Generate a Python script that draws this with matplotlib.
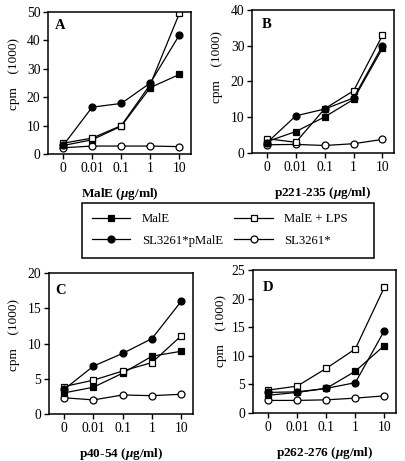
import matplotlib
matplotlib.use('Agg')
import matplotlib.pyplot as plt
from matplotlib.lines import Line2D
from matplotlib.patches import Rectangle

plt.rcParams['font.family'] = ['Liberation Serif', 'DejaVu Serif']
plt.rcParams['mathtext.fontset'] = 'custom'
plt.rcParams['mathtext.it'] = 'Liberation Serif:italic:bold'
plt.rcParams['mathtext.rm'] = 'Liberation Serif:bold'

# concentration categories (ug/ml)
doses = ['0', '0.01', '0.1', '1', '10']

# panel A - MalE
a_male = [3.0, 5.0, 9.8, 23.4, 28.0]
a_male_lps = [3.8, 5.6, 10.0, 24.5, 49.5]
a_pmale = [3.0, 16.5, 17.8, 25.0, 41.9]
a_sl = [2.2, 2.8, 2.8, 2.8, 2.6]

# panel B - p221-235
b_male = [3.2, 6.0, 10.1, 15.0, 29.3]
b_male_lps = [4.0, 3.0, 12.4, 17.4, 32.9]
b_pmale = [2.9, 10.4, 12.3, 15.4, 30.0]
b_sl = [2.3, 2.4, 2.1, 2.6, 3.8]

# panel C - p40-54
c_male = [3.0, 3.8, 5.8, 8.2, 8.9]
c_male_lps = [3.9, 4.8, 6.1, 7.3, 11.1]
c_pmale = [3.5, 6.8, 8.6, 10.7, 16.0]
c_sl = [2.3, 2.0, 2.7, 2.6, 2.8]

# panel D - p262-276
d_male = [3.1, 3.6, 4.3, 7.3, 11.8]
d_male_lps = [4.0, 4.7, 7.8, 11.2, 22.0]
d_pmale = [3.6, 3.7, 4.3, 5.3, 14.4]
d_sl = [2.2, 2.2, 2.3, 2.6, 3.0]

series_names = ['MalE', 'MalE + LPS', 'SL3261*pMalE', 'SL3261*']
styles = {
    'MalE': dict(marker='s', mfc='black'),
    'MalE + LPS': dict(marker='s', mfc='white'),
    'SL3261*pMalE': dict(marker='o', mfc='black'),
    'SL3261*': dict(marker='o', mfc='white'),
}

# letter, x label, series, ymax, ystep, axes box (px), letter pos, ylabel pos
panels = [
    ('A', 'MalE', [a_male, a_male_lps, a_pmale, a_sl], 50, 10, [48, 12, 191, 154], (0.05, 0.905), (-0.196, 0.56)),
    ('B', 'p221-235', [b_male, b_male_lps, b_pmale, b_sl], 40, 10, [252, 10, 394, 153], (0.07, 0.9), (-0.204, 0.60)),
    ('C', 'p40-54', [c_male, c_male_lps, c_pmale, c_sl], 20, 5, [49, 273, 193, 414], (0.045, 0.875), (-0.2, 0.56)),
    ('D', 'p262-276', [d_male, d_male_lps, d_pmale, d_sl], 25, 5, [253, 270, 396, 413], (0.07, 0.88), (-0.18, 0.57)),
]

W, H = 406, 461
fig = plt.figure(figsize=(W / 100, H / 100), dpi=100)

for letter, peptide, data, ymax, ystep, (l, t, r, b), lpos, ylab in panels:
    ax = fig.add_axes([l / W, 1 - b / H, (r - l) / W, (b - t) / H])
    x = list(range(len(doses)))
    # open circles first so the others sit on top
    for name, vals in sorted(zip(series_names, data), key=lambda p: p[0] != 'SL3261*'):
        st = styles[name]
        ax.plot(x, vals, color='black', lw=0.9, marker=st['marker'], mfc=st['mfc'],
                mec='black', mew=0.9, ms=5)
    ax.set_xlim(-0.52, 4.4)
    ax.set_ylim(0, ymax)
    ax.set_xticks(x)
    ax.set_xticklabels(doses)
    ax.set_yticks(range(0, ymax + 1, ystep))
    ax.tick_params(labelsize=9.8, width=1, length=3.5, direction='out', pad=2)
    for sp in ax.spines.values():
        sp.set_linewidth(1.1)
    ax.text(lpos[0], lpos[1], letter, transform=ax.transAxes, fontsize=10.5,
            fontweight='bold', va='center', ha='left')
    ax.set_ylabel('cpm    (1000)', fontsize=9.5)
    ax.yaxis.set_label_coords(ylab[0], ylab[1])
    ax.set_xlabel(peptide + r' ($\mu$g/ml)', fontsize=9.5, fontweight='bold', labelpad=8)

# legend frame
fig.patches.append(Rectangle((82 / W, 1 - 258 / H), (374 - 82) / W, (258 - 203) / H,
                             transform=fig.transFigure, fill=False,
                             edgecolor='black', lw=1.1))

order = ['MalE', 'SL3261*pMalE', 'MalE + LPS', 'SL3261*']
handles = [Line2D([], [], color='black', lw=0.9, marker=styles[n]['marker'],
                  mfc=styles[n]['mfc'], mec='black', mew=0.9, ms=5)
           for n in order]
fig.legend(handles, order, ncol=2, loc='center',
           bbox_to_anchor=(220 / W, 1 - 230 / H),
           fontsize=9.2, frameon=False, borderpad=0,
           handlelength=3.0, handletextpad=0.9, columnspacing=0.9,
           labelspacing=0.75)

fig.savefig('out.png', dpi=100)
